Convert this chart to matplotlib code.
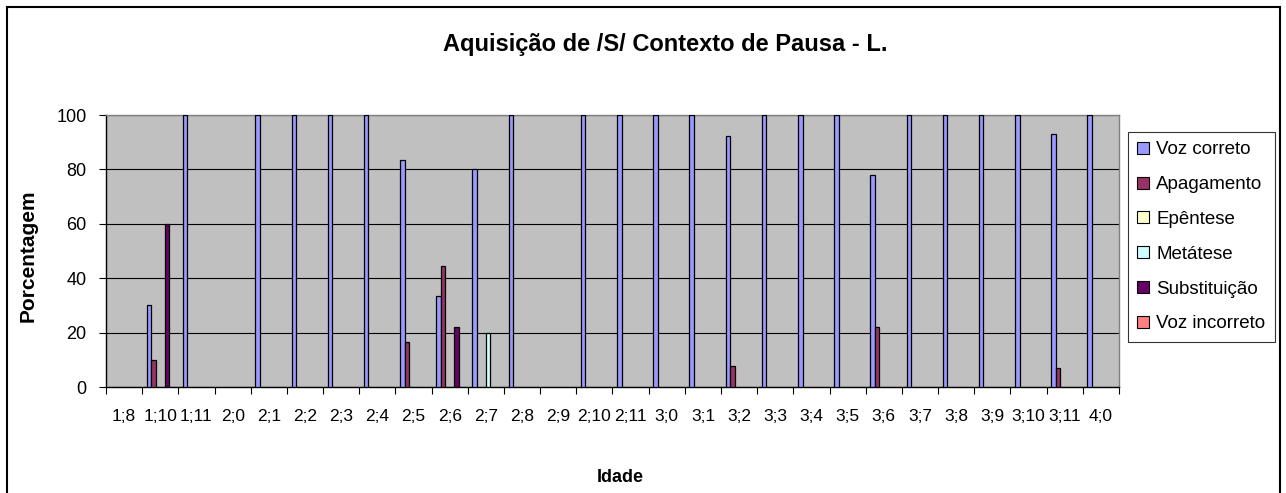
import numpy as np
import matplotlib
matplotlib.use("Agg")
import matplotlib.pyplot as plt
from matplotlib.patches import Patch, Rectangle

plt.rcParams["font.family"] = ["Liberation Sans", "DejaVu Sans"]

# ---- data ----
idade = ["1;8", "1;10", "1;11", "2;0", "2;1", "2;2", "2;3", "2;4", "2;5", "2;6",
         "2;7", "2;8", "2;9", "2;10", "2;11", "3;0", "3;1", "3;2", "3;3", "3;4",
         "3;5", "3;6", "3;7", "3;8", "3;9", "3;10", "3;11", "4;0"]
voz_correto = [0, 30, 100, 0, 100, 100, 100, 100, 83.3, 33.3,
               80, 100, 0, 100, 100, 100, 100, 92.3, 100, 100,
               100, 77.8, 100, 100, 100, 100, 92.9, 100]
apagamento = [0, 10, 0, 0, 0, 0, 0, 0, 16.7, 44.4,
              0, 0, 0, 0, 0, 0, 0, 7.7, 0, 0,
              0, 22.2, 0, 0, 0, 0, 7.1, 0]
epentese = [0] * 28
metatese = [0] * 10 + [20] + [0] * 17
substituicao = [0, 60, 0, 0, 0, 0, 0, 0, 0, 22.2] + [0] * 18
voz_incorreto = [0] * 28

series = ["Voz correto", "Apagamento", "Epêntese", "Metátese", "Substituição", "Voz incorreto"]
values = [voz_correto, apagamento, epentese, metatese, substituicao, voz_incorreto]
colors = ["#9999FF", "#993366", "#FFFFCC", "#CCFFFF", "#660066", "#FF8080"]

W, H = 1286, 493
fig = plt.figure(figsize=(W / 100, H / 100), dpi=100)
fig.patch.set_facecolor("white")

# outer chart border (cut at the bottom in the original)
fig.add_artist(Rectangle((7 / W, -0.05), (1280 - 7) / W, (H - 7) / H + 0.05,
                         transform=fig.transFigure, fill=False,
                         edgecolor="black", linewidth=1.5))

ax = fig.add_axes([106 / W, (H - 387) / H, (1119 - 106) / W, (387 - 115) / H])
ax.set_facecolor("#C0C0C0")

x = np.arange(len(idade))
bw = 0.124
for i, (name, vals, col) in enumerate(zip(series, values, colors)):
    vals = np.array(vals, dtype=float)
    m = vals > 0
    ax.bar(x[m] + (i - 2.5) * bw, vals[m], width=bw, color=col,
           edgecolor="black", linewidth=0.9, zorder=3)

ax.set_xlim(-0.5, len(idade) - 0.5)
ax.set_ylim(0, 100)
ax.set_yticks(range(0, 101, 20))
ax.yaxis.grid(True, color="black", linewidth=0.8, zorder=1)
ax.set_axisbelow(True)

ax.set_xticks(np.arange(len(idade) + 1) - 0.5)
ax.set_xticklabels([])
ax.set_xticks(x, minor=True)
ax.set_xticklabels(idade, minor=True, fontsize=12.5)
ax.tick_params(axis="x", which="major", direction="out", length=5, width=0.8)
ax.tick_params(axis="x", which="minor", length=0, pad=16)
ax.tick_params(axis="y", direction="out", length=5, width=0.8, labelsize=13, pad=9)

for s in ["top", "right"]:
    ax.spines[s].set_color("#808080")
    ax.spines[s].set_linewidth(1.0)
for s in ["left", "bottom"]:
    ax.spines[s].set_color("black")
    ax.spines[s].set_linewidth(1.0)

fig.text(665 / W, 1 - 44 / H, "Aquisição de /S/ Contexto de Pausa - L.",
         ha="center", va="center", fontsize=17, fontweight="bold")
fig.text(28 / W, 1 - 256 / H, "Porcentagem", rotation=90,
         ha="center", va="center", fontsize=15, fontweight="bold")
fig.text(620 / W, 1 - 477 / H, "Idade", ha="center", va="center",
         fontsize=13, fontweight="bold")

handles = [Patch(facecolor=c, edgecolor="black", linewidth=0.8) for c in colors]
leg = fig.legend(handles, series, loc="upper left",
                 bbox_to_anchor=(1128 / W, 1 - 132 / H),
                 fontsize=13.5, frameon=True, fancybox=False,
                 edgecolor="black", handlelength=0.6, handleheight=0.6,
                 handletextpad=0.4, labelspacing=0.95, borderpad=0.5,
                 borderaxespad=0)
leg.get_frame().set_linewidth(0.8)

fig.savefig("out.png", dpi=100)
